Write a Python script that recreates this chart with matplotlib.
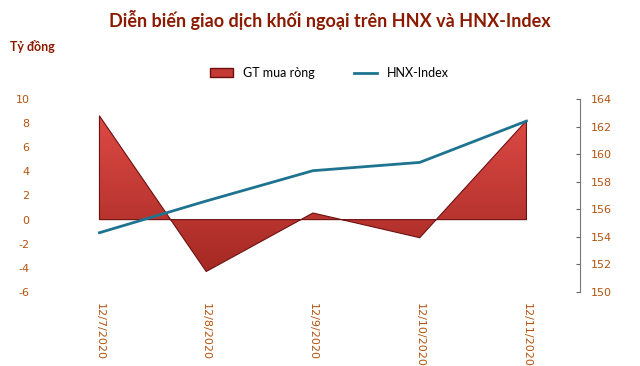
import matplotlib.pyplot as plt
import numpy as np
from matplotlib.patches import Patch
from matplotlib.lines import Line2D
from matplotlib.colors import LinearSegmentedColormap

plt.rcParams["axes.unicode_minus"] = False

dates = ["12/7/2020", "12/8/2020", "12/9/2020", "12/10/2020", "12/11/2020"]
net_buy = [8.6, -4.3, 0.55, -1.5, 8.2]
hnx_index = [154.3, 156.6, 158.8, 159.4, 162.4]

tick_color = "#B5530F"
dark_red = "#8B1A00"
line_color = "#1E7490"

fig = plt.figure(figsize=(6.4, 3.66), dpi=100)
ax = fig.add_axes([0.072, 0.2022, 0.834, 0.5273])
ax2 = ax.twinx()

x = np.arange(len(dates))

# area with a vertical red gradient (light on top, dark below), clipped to the shape
poly = ax.fill_between(x, net_buy, 0, facecolor="none", edgecolor="#6E1010", linewidth=0.8, zorder=2)
grad = np.linspace(0, 1, 256).reshape(-1, 1)
cmap = LinearSegmentedColormap.from_list("reds", ["#9E2520", "#E34D47"])
img = ax.imshow(grad, cmap=cmap, aspect="auto", extent=[-0.5, len(dates) - 0.5, -6, 10],
                origin="lower", zorder=1)
img.set_clip_path(poly.get_paths()[0], transform=ax.transData)

ax.set_xlim(-0.5, len(dates) - 0.5)
ax.set_ylim(-6, 10)
ax.set_yticks(range(-6, 11, 2))
ax.set_xticks(x)
ax.set_xticklabels(dates, rotation=270, color=tick_color, fontsize=8, fontfamily="DejaVu Sans")
ax.tick_params(axis="x", length=0, pad=8)
ax.tick_params(axis="y", length=0, colors=tick_color, labelsize=8, pad=12)
for s in ax.spines.values():
    s.set_visible(False)

ax2.plot(x, hnx_index, color=line_color, linewidth=2, zorder=3)
ax2.set_ylim(150, 164)
ax2.set_yticks(range(150, 165, 2))
ax2.tick_params(axis="y", direction="in", length=3, colors="#666666", labelcolor=tick_color, labelsize=8, pad=8)
for k, s in ax2.spines.items():
    s.set_visible(k == "right")
ax2.spines["right"].set_color("#777777")
ax.set_zorder(ax2.get_zorder() - 1)
ax2.patch.set_visible(False)

fig.text(0.515, 0.945, "Diễn biến giao dịch khối ngoại trên HNX và HNX-Index", ha="center", va="center",
         fontsize=13, fontweight="bold", color=dark_red, fontfamily="Lato")
fig.text(0.016, 0.872, "Tỷ đồng", ha="left", va="center", fontsize=9, fontweight="bold",
         color=dark_red, fontfamily="Lato")

handles = [Patch(facecolor="#C43A35", edgecolor="#6E1010"),
           Line2D([0], [0], color=line_color, linewidth=2)]
fig.legend(handles, ["GT mua ròng", "HNX-Index"], loc="center", bbox_to_anchor=(0.515, 0.8),
           ncol=2, frameon=False, columnspacing=3.2, handlelength=1.8,
           prop={"family": "Lato", "size": 9})

fig.savefig("out.png", dpi=100)
